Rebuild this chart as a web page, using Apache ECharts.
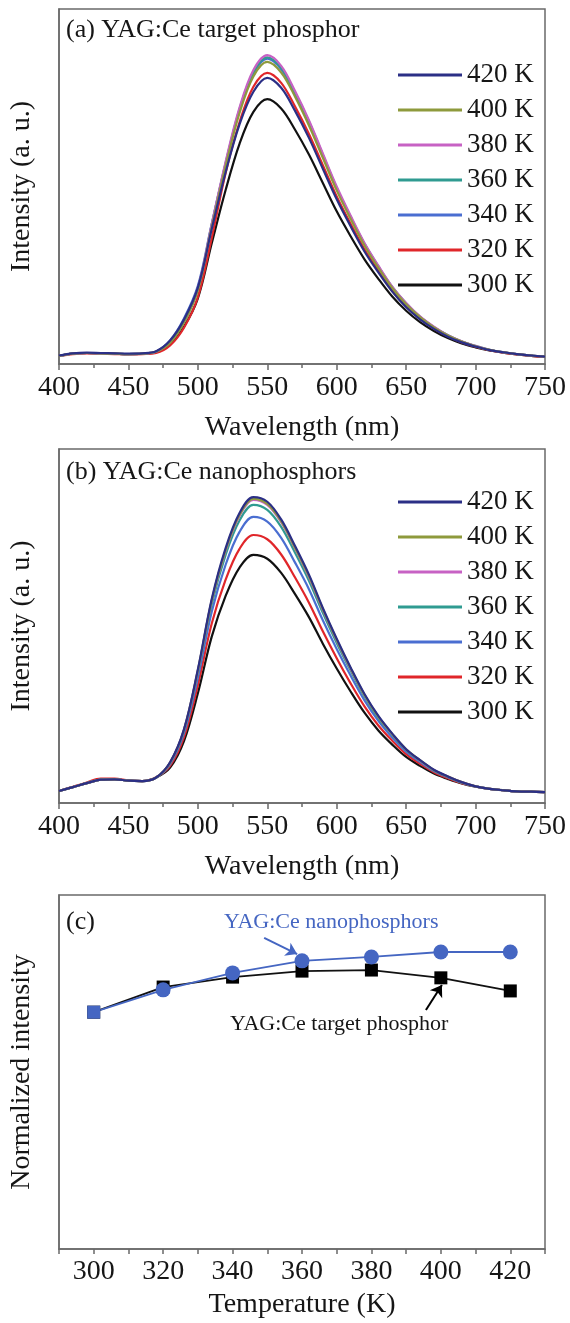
<!DOCTYPE html>
<html>
<head>
<meta charset="utf-8">
<script src="https://cdn.jsdelivr.net/npm/echarts@6/dist/echarts.min.js"></script>
<style>
  html, body { margin: 0; padding: 0; background: #fff; }
  #chart { width: 570px; height: 1323px; }
</style>
</head>
<body>
<div id="chart"></div>
<script>
// wavelength grid (nm) shared by panels (a) and (b)
const wavelengths = [400,410,420,430,440,450,460,470,480,490,500,510,520,530,540,550,560,570,580,590,600,610,620,630,640,650,660,670,680,690,700,710,720,730,740,750]
const tempNames = ['420 K', '400 K', '380 K', '360 K', '340 K', '320 K', '300 K']
const tempColors = ['#2b2f86', '#8e9a3c', '#c762c4', '#2f9b91', '#4a6ed1', '#e0262a', '#111111']

// (a) YAG:Ce target phosphor
const a300 = [2.3,2.9,3.1,3.0,2.9,2.8,2.9,3.4,5.6,10.5,18.5,34,49,62,71,74.6,72,66,59,51,43,36,29.5,24,19,15,11.8,9.3,7.3,5.8,4.7,3.8,3.2,2.7,2.3,2.0]
const a320 = [2.3,2.8,3.0,2.9,2.8,2.7,2.8,3.1,5.2,10.2,18.8,35.5,53.8,68.1,78.1,82.0,79.2,72.5,64.8,56.0,47.2,39.5,32.3,26.2,20.7,16.3,12.8,10.0,7.8,6.1,4.9,3.9,3.2,2.7,2.3,2.0]
const a340 = [2.3,2.9,3.1,3.0,2.9,2.8,2.9,3.5,6.6,12.8,22,39.5,56.3,71.4,81.8,86.0,83.0,76.0,67.9,58.7,49.4,41.3,33.8,27.4,21.6,17.0,13.3,10.4,8.1,6.3,5.0,4.0,3.3,2.8,2.4,2.1]
const a360 = [2.3,2.9,3.1,3.0,2.9,2.8,2.9,3.5,6.1,11.8,21.1,39.2,56.6,71.8,82.2,86.4,83.4,76.4,68.3,59.0,49.6,41.5,33.9,27.5,21.7,17.1,13.3,10.4,8.1,6.3,5.1,4.0,3.3,2.8,2.4,2.1]
const a380 = [2.3,2.9,3.1,3.0,2.9,2.8,2.9,3.5,6.1,11.9,21.3,39.4,57.0,72.2,82.8,87.0,84.0,76.9,68.7,59.3,50.0,41.8,34.1,27.7,21.8,17.2,13.4,10.5,8.1,6.4,5.1,4.0,3.3,2.8,2.4,2.1]
const a400 = [2.3,2.9,3.1,3.0,2.9,2.8,2.9,3.5,6.0,11.7,20.8,38.6,55.8,70.7,81.0,85.1,82.1,75.3,67.2,58.1,48.9,40.9,33.4,27.1,21.4,16.8,13.2,10.3,8.0,6.3,5.0,4.0,3.3,2.8,2.4,2.1]
const a420 = [2.4,3.0,3.2,3.1,3.0,2.9,3.0,3.6,6.6,12.5,21.5,38,54,67.5,76.7,80.6,77.8,71.3,63.7,55.0,46.4,38.8,31.7,25.8,20.4,16.0,12.6,9.9,7.7,6.1,4.9,3.9,3.3,2.8,2.4,2.1]

// (b) YAG:Ce nanophosphors
const b300 = [3.4,4.5,5.6,6.6,6.7,6.3,6.2,7.2,10,17.5,31,47,58.5,66.5,70.1,69,65,59,52.5,45,38,31.5,25.5,20.5,16.5,13,10.5,8.3,6.8,5.5,4.6,4.0,3.6,3.3,3.2,3.1]
const b320 = [3.4,4.6,5.8,6.9,6.9,6.4,6.2,7.3,10.5,18.6,33.3,50.7,63.1,71.8,75.7,74.5,70.2,63.7,56.6,48.5,40.9,33.8,27.3,21.9,17.6,13.8,11.1,8.7,7.0,5.6,4.7,4.0,3.6,3.3,3.2,3.1]
const b340 = [3.4,4.5,5.6,6.6,6.7,6.3,6.2,7.2,11.0,19.7,35.4,54.0,67.3,76.6,80.8,79.5,74.9,67.9,60.4,51.6,43.5,36.0,29.0,23.2,18.5,14.5,11.6,9.0,7.3,5.7,4.7,4.0,3.6,3.3,3.2,3.1]
const b360 = [3.4,4.5,5.6,6.6,6.7,6.3,6.2,7.2,11.3,20.4,36.8,56.2,70.1,79.8,84.2,82.8,78.0,70.7,62.8,53.7,45.2,37.4,30.1,24.0,19.2,14.9,11.9,9.2,7.4,5.8,4.7,4.0,3.6,3.3,3.2,3.1]
const b380 = [3.4,4.5,5.6,6.6,6.7,6.3,6.2,7.2,11.4,20.7,37.3,57.1,71.3,81.1,85.6,84.2,79.3,71.9,63.8,54.6,46.0,37.9,30.5,24.4,19.4,15.1,12.0,9.3,7.5,5.9,4.7,4.0,3.6,3.3,3.2,3.1]
const b400 = [3.4,4.5,5.6,6.6,6.7,6.3,6.2,7.2,11.4,20.7,37.5,57.3,71.5,81.4,85.9,84.5,79.6,72.1,64.1,54.8,46.1,38.1,30.6,24.4,19.5,15.2,12.1,9.3,7.5,5.9,4.7,4.0,3.6,3.3,3.2,3.1]
const b420 = [3.4,4.5,5.6,6.6,6.7,6.3,6.2,7.2,11.5,20.8,37.7,57.6,72.0,81.9,86.4,85.1,80.1,72.6,64.5,55.1,46.4,38.3,30.8,24.6,19.6,15.2,12.1,9.4,7.5,5.9,4.7,4.0,3.6,3.3,3.2,3.1]

// (c) normalized intensity vs temperature
const temps = [300, 320, 340, 360, 380, 400, 420]
const nanoIntensity = [0.669, 0.732, 0.780, 0.814, 0.825, 0.839, 0.839]
const targetIntensity = [0.669, 0.740, 0.768, 0.785, 0.788, 0.766, 0.729]

const FONT = 'Liberation Serif'
const TXT = '#161616'
const FRAME = '#6a6a6a'
const BLUE = '#4566c2'

const chart = echarts.init(document.getElementById('chart'))

const zip = (xs, ys) => xs.map((x, i) => [x, ys[i]])

// draw order: 300 K first, 420 K on top
const aSets = [a300, a320, a340, a360, a380, a400, a420]
const bSets = [b300, b320, b340, b360, b380, b400, b420]
const order = [6, 5, 4, 3, 2, 1, 0] // index into tempNames for 300..420

const spectraSeries = (sets, idx) => sets.map((vals, k) => ({
  name: tempNames[order[k]],
  type: 'line',
  xAxisIndex: idx,
  yAxisIndex: idx,
  data: zip(wavelengths, vals),
  smooth: 0.35,
  symbol: 'none',
  color: tempColors[order[k]],
  lineStyle: { width: 2.2 },
  silent: true,
  animation: false
}))

const wlAxis = (idx) => ({
  type: 'value',
  gridIndex: idx,
  min: 400,
  max: 750,
  interval: 50,
  name: 'Wavelength (nm)',
  nameLocation: 'middle',
  nameGap: 50,
  nameTextStyle: { fontFamily: FONT, fontSize: 28, color: TXT },
  axisLine: { show: true, lineStyle: { color: FRAME, width: 1.5 } },
  axisTick: { show: true, length: 6, lineStyle: { color: FRAME, width: 1.5 } },
  minorTick: { show: true, splitNumber: 2, length: 4, lineStyle: { color: FRAME, width: 1.5 } },
  splitLine: { show: false },
  axisLabel: { fontFamily: FONT, fontSize: 28, color: TXT, margin: 10 }
})

const intAxis = (idx, name, max) => ({
  type: 'value',
  gridIndex: idx,
  min: 0,
  max: max,
  name: name,
  nameLocation: 'middle',
  nameGap: 23,
  nameTextStyle: { fontFamily: FONT, fontSize: 28, color: TXT },
  axisLine: { show: true, lineStyle: { color: FRAME, width: 1.5 } },
  axisTick: { show: false },
  axisLabel: { show: false },
  splitLine: { show: false }
})

const legendFor = (top) => ({
  data: tempNames,
  orient: 'vertical',
  left: 398,
  top: top,
  padding: 0,
  itemGap: 5,
  icon: 'rect',
  itemWidth: 64,
  itemHeight: 3,
  selectedMode: false,
  textStyle: { fontFamily: FONT, fontSize: 27, color: TXT, lineHeight: 30 }
})

const label = (text, left, top, size, color) => ({
  text: text,
  left: left,
  top: top,
  padding: 0,
  textStyle: { fontFamily: FONT, fontSize: size, fontWeight: 'normal', color: color }
})

const option = {
  animation: false,
  backgroundColor: '#fff',
  title: [
    label('(a) YAG:Ce target phosphor', 66, 17, 26, TXT),
    label('(b) YAG:Ce nanophosphors', 66, 459, 26, TXT),
    label('(c)', 66, 909, 26, TXT),
    label('YAG:Ce nanophosphors', 224, 911, 22, BLUE),
    label('YAG:Ce target phosphor', 230, 1013, 22, TXT)
  ],
  legend: [legendFor(60), legendFor(487)],
  grid: [
    { left: 59, top: 9, width: 486, height: 355, show: true, borderColor: FRAME, borderWidth: 1.5 },
    { left: 59, top: 449, width: 486, height: 354, show: true, borderColor: FRAME, borderWidth: 1.5 },
    { left: 59, top: 895, width: 486, height: 354, show: true, borderColor: FRAME, borderWidth: 1.5 }
  ],
  xAxis: [
    wlAxis(0),
    wlAxis(1),
    {
      type: 'value',
      gridIndex: 2,
      min: 290,
      max: 430,
      interval: 10,
      name: 'Temperature (K)',
      nameLocation: 'middle',
      nameGap: 42,
      nameTextStyle: { fontFamily: FONT, fontSize: 28, color: TXT },
      axisLine: { show: true, lineStyle: { color: FRAME, width: 1.5 } },
      axisTick: { show: true, length: 5, lineStyle: { color: FRAME, width: 1.5 } },
      splitLine: { show: false },
      axisLabel: {
        fontFamily: FONT, fontSize: 28, color: TXT, margin: 9,
        formatter: v => (v >= 300 && v <= 420 && v % 20 === 0) ? String(v) : ''
      }
    }
  ],
  yAxis: [
    intAxis(0, 'Intensity (a. u.)', 100),
    intAxis(1, 'Intensity (a. u.)', 100),
    intAxis(2, 'Normalized intensity', 1)
  ],
  series: [
    ...spectraSeries(aSets, 0),
    ...spectraSeries(bSets, 1),
    {
      name: 'YAG:Ce target phosphor',
      type: 'line',
      xAxisIndex: 2,
      yAxisIndex: 2,
      data: zip(temps, targetIntensity),
      symbol: 'rect',
      symbolSize: 13,
      color: '#000',
      lineStyle: { width: 1.8, color: '#111' },
      markLine: {
        silent: true,
        symbol: ['none', 'arrow'],
        symbolSize: 11,
        label: { show: false },
        lineStyle: { color: '#000', width: 2, type: 'solid' },
        data: [[{ coord: [395.7, 0.675] }, { coord: [400.3, 0.746] }]]
      }
    },
    {
      name: 'YAG:Ce nanophosphors',
      type: 'line',
      xAxisIndex: 2,
      yAxisIndex: 2,
      data: zip(temps, nanoIntensity).map((p, i) => i === 0 ? { value: p, symbol: 'rect', symbolSize: 13 } : p),
      symbol: 'circle',
      symbolSize: 15,
      color: BLUE,
      lineStyle: { width: 1.8, color: BLUE },
      markLine: {
        silent: true,
        symbol: ['none', 'arrow'],
        symbolSize: 11,
        label: { show: false },
        lineStyle: { color: BLUE, width: 2, type: 'solid' },
        data: [[{ coord: [349.1, 0.879] }, { coord: [358.6, 0.833] }]]
      }
    }
  ]
}

chart.setOption(option)
</script>
</body>
</html>
